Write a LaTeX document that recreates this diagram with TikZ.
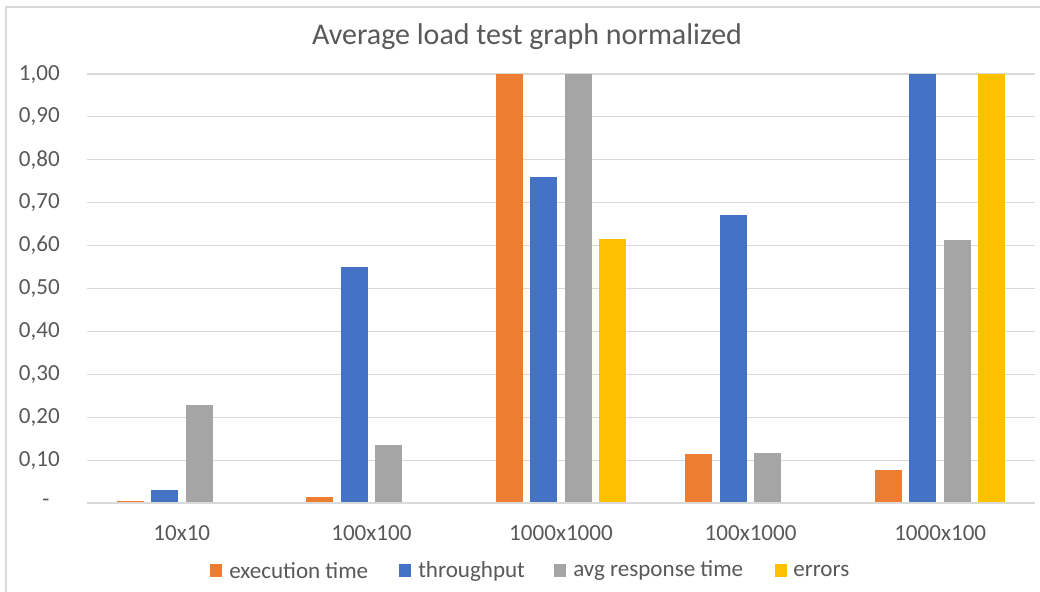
\documentclass[tikz,border=0pt]{standalone}
\usepackage{fontspec}
\setmainfont{Carlito}
\definecolor{cexec}{HTML}{ED7D31}
\definecolor{cthr}{HTML}{4472C4}
\definecolor{cavg}{HTML}{A5A5A5}
\definecolor{cerr}{HTML}{FFC000}
\definecolor{ctext}{HTML}{595959}
\definecolor{cgrid}{HTML}{D9D9D9}
\tikzset{
  grid line/.style={draw=cgrid, line width=0.9pt},
  ylab/.style={text=ctext, anchor=east, font=\fontsize{17.3}{20}\selectfont, inner sep=0pt},
  xlab/.style={text=ctext, anchor=center, font=\fontsize{17.3}{20}\selectfont, inner sep=0pt},
  leglab/.style={text=ctext, anchor=west, font=\fontsize{17.3}{20}\selectfont, inner sep=0pt},
}
\begin{document}
\begin{tikzpicture}[x=0.75pt, y=-0.75pt]
\useasboundingbox (0,0) rectangle (1040,592);
\fill[white] (0,0) rectangle (1040,592);
% chart border (only top and left visible)
\draw[cgrid, line width=1pt] (6,592) -- (6,7) -- (1040,7);
% title
\node[text=ctext, font=\fontsize{22.5}{26}\selectfont, inner sep=0pt] (title) at (527,37) {Average load test graph normalized};
% gridlines and y labels
\foreach \v/\lab [count=\i] in {1/{0,10},2/{0,20},3/{0,30},4/{0,40},5/{0,50},6/{0,60},7/{0,70},8/{0,80},9/{0,90},10/{1,00}} {
  \draw[grid line] (87,{503-42.9*\v}) -- (1035,{503-42.9*\v});
  \node[ylab] (y\i) at (60,{503-42.9*\v}) {\lab};
}
\node[text=ctext, font=\fontsize{17.3}{20}\selectfont, inner sep=0pt] (y0) at (46,503) {-};
% bars
\foreach \c/\e/\t/\a/\r [count=\k] in {
  181.8/0.004/0.03/0.229/0,
  371.4/0.015/0.55/0.135/0,
  561/1.0/0.76/1.0/0.615,
  750.6/0.115/0.671/0.117/0,
  940.2/0.077/1.0/0.613/1.0} {
  \fill[cexec] ({\c-51.75-13.5},503) rectangle ({\c-51.75+13.5},{503-429*\e});
  \fill[cthr]  ({\c-17.25-13.5},503) rectangle ({\c-17.25+13.5},{503-429*\t});
  \fill[cavg]  ({\c+17.25-13.5},503) rectangle ({\c+17.25+13.5},{503-429*\a});
  \fill[cerr]  ({\c+51.75-13.5},503) rectangle ({\c+51.75+13.5},{503-429*\r});
}
% baseline
\draw[grid line] (87,503) -- (1035,503);
% category labels
\node[xlab] (c1) at (181.8,533) {10x10};
\node[xlab] (c2) at (371.4,533) {100x100};
\node[xlab] (c3) at (561,533) {1000x1000};
\node[xlab] (c4) at (750.6,533) {100x1000};
\node[xlab] (c5) at (940.2,533) {1000x100};
% legend
\fill[cexec] (210,564) rectangle (222,577);
\node[leglab] (l1) at (229,571) {execution time};
\fill[cthr] (399,564) rectangle (411,577);
\node[leglab] (l2) at (418,571) {throughput};
\fill[cavg] (554,564) rectangle (566,577);
\node[leglab] (l3) at (573,571) {avg response time};
\fill[cerr] (775,564) rectangle (787,577);
\node[leglab] (l4) at (793,571) {errors};
\end{tikzpicture}
\end{document}
